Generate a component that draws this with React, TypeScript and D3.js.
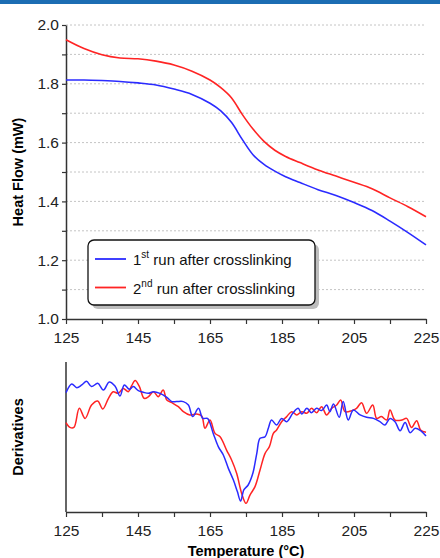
import React, { useEffect, useRef } from "react";
import * as d3 from "d3";

// heat flow (mW) vs temperature (°C)
const hfTemps = [125, 130, 135, 140, 145, 150, 155, 160, 165, 168, 171, 174, 177, 180, 183, 186, 190, 195, 200, 205, 210, 215, 220, 225];
const hfRun1 = [1.813, 1.813, 1.811, 1.808, 1.803, 1.796, 1.782, 1.764, 1.734, 1.708, 1.668, 1.61, 1.558, 1.526, 1.503, 1.484, 1.464, 1.44, 1.42, 1.396, 1.369, 1.333, 1.294, 1.252];
const hfRun2 = [1.95, 1.92, 1.899, 1.888, 1.885, 1.877, 1.864, 1.843, 1.813, 1.787, 1.752, 1.695, 1.645, 1.604, 1.574, 1.553, 1.532, 1.507, 1.486, 1.465, 1.443, 1.412, 1.382, 1.348];

// derivative curves (arbitrary units)
const dRun1T = [125, 126.6, 128, 129.4, 130.7, 132.1, 133.8, 135.4, 137, 138.6, 140, 141.2, 142.6, 143.7, 145.1, 146.5, 147.9, 149.3, 151.1, 153, 154.4, 155.7, 157.6, 159, 160.2, 161.8, 163, 164.3, 165.9, 167.3, 168.7, 170.1, 171.5, 172.6, 173.5, 174.4, 175.6, 176.9, 178, 178.9, 180.3, 181.2, 182.1, 183.5, 184.9, 186.3, 188, 189.5, 190.5, 191.9, 193.2, 194.6, 196, 197.4, 198.3, 199.3, 200.9, 202, 203.4, 204.8, 206.7, 208.5, 210.4, 212.2, 213.6, 215, 216.4, 217.8, 219.2, 220.6, 222, 223.5, 225];
const dRun1V = [79.6, 85.3, 82.9, 84.7, 87.1, 83.6, 85.8, 81.3, 86.7, 84, 77.3, 84.7, 81.8, 83.6, 80.9, 79.8, 79.1, 80.2, 79.1, 76.4, 73.6, 73.6, 73.6, 71.3, 63.6, 69.1, 62.4, 62.4, 52.4, 43.6, 38, 29.1, 21.3, 13.6, 7.3, 14.7, 18, 25.8, 39.1, 49.1, 50.2, 55.8, 61.3, 58, 62.4, 60.2, 65.8, 69.1, 65.3, 69.1, 66.2, 69.1, 67.6, 71.3, 66.9, 72, 63.1, 73.6, 61.3, 68, 64.7, 63.1, 62.4, 60.2, 58, 62.4, 60.2, 54.2, 59.6, 52.9, 55.8, 54.2, 50.7];
const dRun2T = [125, 126.1, 127.2, 128.7, 130.3, 132.1, 133.8, 135.2, 136.8, 138.1, 139.5, 140.9, 142.3, 143.2, 144.2, 145.4, 146.7, 147.9, 149.3, 150.6, 152, 153, 154.4, 156.2, 157.6, 159.4, 161.3, 162.7, 163.6, 165, 166.4, 167.8, 169.6, 171, 172.4, 173.8, 175, 176.1, 177.5, 178.9, 180.3, 181.5, 182.6, 183.5, 184.9, 186.3, 187.7, 189.1, 190.5, 191.9, 193.2, 194.6, 196, 197.4, 198.8, 200.2, 201.3, 202.5, 204.4, 205.7, 207.1, 208.5, 210.2, 211.3, 212.6, 214.1, 215, 216.4, 218.3, 219.6, 221, 222.4, 223.5, 225];
const dRun2V = [59.6, 56.4, 56.4, 69.1, 62.4, 71.3, 74, 68.7, 75.8, 80.2, 79.1, 82.4, 80.2, 84, 87.6, 83.6, 75.8, 76.9, 80.2, 76.9, 81.3, 74.7, 72.9, 70.2, 66.9, 64.7, 65.3, 64, 55.8, 61.3, 52.4, 50.2, 41.3, 34.7, 25.8, 12.4, 5.8, 11.3, 16.9, 28, 39.1, 43.6, 52.4, 54.7, 60.2, 63.6, 66.9, 64.7, 66.9, 65.8, 69.1, 66.2, 70.2, 64.7, 69.1, 71.3, 74.7, 66.9, 67.6, 69.1, 72.9, 65.8, 71.3, 62.4, 63.6, 61.3, 68, 61.3, 61.3, 62.4, 56.4, 60.9, 54.7, 53.1];

const xTicks = [125, 145, 165, 185, 205, 225];
const xMinor = [135, 155, 175, 195, 215];
const yTicks = [1.0, 1.2, 1.4, 1.6, 1.8, 2.0];
const yMinor = [1.1, 1.3, 1.5, 1.7, 1.9];
const legendLabels = [
  { n: "1", sup: "st", rest: " run after crosslinking" },
  { n: "2", sup: "nd", rest: " run after crosslinking" },
];

const BLUE = "#2b2bff";
const RED = "#ff2424";
const FONT = "'Liberation Sans', Arial, sans-serif";

const App = () => {
  const ref = useRef<SVGSVGElement>(null);

  useEffect(() => {
    const svg = d3.select(ref.current);
    svg.selectAll("*").remove();

    const left = 66;
    const right = 426;

    svg.append("rect").attr("x", 0).attr("y", 0).attr("width", 440).attr("height", 4).attr("fill", "#1c6db3");

    const x = d3.scaleLinear().domain([125, 225]).range([left, right]);
    const y = d3.scaleLinear().domain([1.0, 2.0]).range([319, 25]);
    const yd = d3.scaleLinear().domain([0, 100]).range([512, 362]);

    // grid
    svg
      .selectAll(".grid")
      .data([...yTicks, ...yMinor].filter((d) => d > 1.0))
      .enter()
      .append("line")
      .attr("x1", left)
      .attr("x2", right)
      .attr("y1", (d) => y(d))
      .attr("y2", (d) => y(d))
      .attr("stroke", "#c4c4c4")
      .attr("stroke-width", 1)
      .attr("stroke-dasharray", "2,2");

    const styleAxis = (g) => {
      g.select(".domain").attr("stroke", "#333").attr("stroke-width", 1.5);
      g.selectAll(".tick line").attr("stroke", "#333").attr("stroke-width", 1.2);
      g.selectAll("text").attr("font-family", FONT).attr("font-size", 15.5).attr("fill", "#222");
    };

    const addXAxis = (yPos) => {
      svg
        .append("g")
        .attr("transform", `translate(0,${yPos})`)
        .call(d3.axisBottom(x).tickValues([...xTicks, ...xMinor]).tickSize(5).tickSizeOuter(0).tickFormat((d) => (xTicks.includes(+d) ? String(d) : "")))
        .call(styleAxis)
        .selectAll("text")
        .attr("dy", "1em");
    };

    // top panel
    addXAxis(319);
    svg
      .append("g")
      .attr("transform", `translate(${left},0)`)
      .call(d3.axisLeft(y).tickValues([...yTicks, ...yMinor]).tickSize(4).tickSizeOuter(0).tickFormat((d) => (yTicks.some((t) => Math.abs(t - +d) < 1e-6) ? d3.format(".1f")(d) : "")))
      .call(styleAxis)
      .selectAll("text")
      .attr("x", -7);

    const line = d3
      .line<number>()
      .x((d, i) => x(hfTemps[i]))
      .y((d) => y(d))
      .curve(d3.curveCatmullRom.alpha(0.5));

    svg.append("path").datum(hfRun1).attr("fill", "none").attr("stroke", BLUE).attr("stroke-width", 1.6).attr("d", line);
    svg.append("path").datum(hfRun2).attr("fill", "none").attr("stroke", RED).attr("stroke-width", 1.6).attr("d", line);

    svg
      .append("text")
      .attr("transform", `translate(23,${(25 + 319) / 2}) rotate(-90)`)
      .attr("text-anchor", "middle")
      .attr("font-family", FONT)
      .attr("font-weight", "bold")
      .attr("font-size", 14.5)
      .text("Heat Flow (mW)");

    // legend
    const lg = svg.append("g");
    lg.append("rect").attr("x", 92).attr("y", 244).attr("width", 227).attr("height", 65).attr("rx", 6).attr("fill", "#bdbdbd");
    lg.append("rect").attr("x", 88).attr("y", 240).attr("width", 227).attr("height", 65).attr("rx", 6).attr("fill", "#fff").attr("stroke", "#111").attr("stroke-width", 1.3);
    legendLabels.forEach((l, i) => {
      const ly = 259 + i * 28.5;
      lg.append("line").attr("x1", 95).attr("x2", 126).attr("y1", ly).attr("y2", ly).attr("stroke", i === 0 ? BLUE : RED).attr("stroke-width", 1.8);
      const t = lg.append("text").attr("x", 133).attr("y", ly + 6).attr("font-family", FONT).attr("font-size", 15).attr("fill", "#111");
      t.append("tspan").text(l.n);
      t.append("tspan").attr("dy", -7).attr("font-size", 10).text(l.sup);
      t.append("tspan").attr("dy", 7).text(l.rest);
    });

    // bottom panel
    addXAxis(512);
    svg.append("line").attr("x1", left).attr("x2", left).attr("y1", 362).attr("y2", 512).attr("stroke", "#333").attr("stroke-width", 1.5);

    const dLine = (ts) =>
      d3
        .line<number>()
        .x((d, i) => x(ts[i]))
        .y((d) => yd(d))
        .curve(d3.curveCatmullRom.alpha(0.5));

    svg.append("path").datum(dRun2V).attr("fill", "none").attr("stroke", RED).attr("stroke-width", 1.5).attr("d", dLine(dRun2T));
    svg.append("path").datum(dRun1V).attr("fill", "none").attr("stroke", BLUE).attr("stroke-width", 1.5).attr("d", dLine(dRun1T));

    svg
      .append("text")
      .attr("transform", `translate(23,${(362 + 512) / 2}) rotate(-90)`)
      .attr("text-anchor", "middle")
      .attr("font-family", FONT)
      .attr("font-weight", "bold")
      .attr("font-size", 14.5)
      .text("Derivatives");

    svg
      .append("text")
      .attr("x", (left + right) / 2)
      .attr("y", 556)
      .attr("text-anchor", "middle")
      .attr("font-family", FONT)
      .attr("font-weight", "bold")
      .attr("font-size", 14.5)
      .text("Temperature (°C)");
  }, []);

  return <svg ref={ref} width={440} height={558} style={{ position: "absolute", left: 0, top: 0, background: "#fff" }} />;
};

export default App;
